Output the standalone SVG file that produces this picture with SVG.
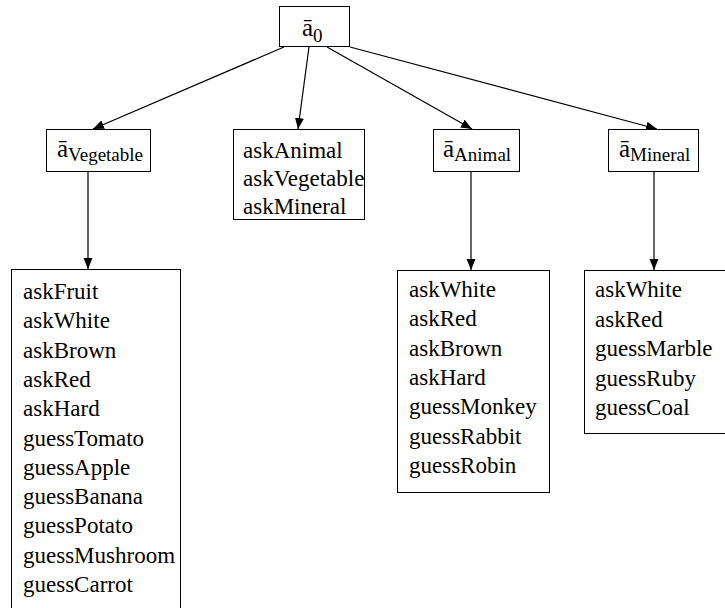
<svg xmlns="http://www.w3.org/2000/svg" width="725" height="608" viewBox="0 0 725 608" font-family="'Liberation Serif', 'Times New Roman', Times, serif">
<style>
.box{fill:#fff;stroke:#000;stroke-width:1}
.t{font-size:23px;fill:#000}
.h{font-size:25px;fill:#000}
.s{font-size:19px}
.e{stroke:#000;stroke-width:1.2;fill:none;marker-end:url(#arr)}
</style>
<defs>
<marker id="arr" markerUnits="userSpaceOnUse" markerWidth="12" markerHeight="10" refX="11" refY="4.5" orient="auto">
<path d="M0,0 L11,4.5 L0,9 z" fill="#000"/>
</marker>
</defs>
<rect width="725" height="608" fill="#fff"/>
<g id="connectors">
<line class="e" x1="284" y1="47" x2="93" y2="129"/>
<line class="e" x1="309" y1="47" x2="298" y2="129"/>
<line class="e" x1="327" y1="47" x2="472" y2="129"/>
<line class="e" x1="350" y1="47" x2="657" y2="129"/>
<line class="e" x1="88" y1="172" x2="88" y2="269"/>
<line class="e" x1="471" y1="172" x2="471" y2="270"/>
<line class="e" x1="654" y1="172" x2="654" y2="270"/>
</g>
<g id="root">
<rect class="box" x="279.5" y="6.5" width="70" height="40"/>
<text class="h" x="302" y="36">ā<tspan class="s" dy="6">0</tspan></text>
</g>
<g id="aVegetable">
<rect class="box" x="46.5" y="129.5" width="104" height="42"/>
<text class="h" x="57" y="157">ā<tspan class="s" dy="4">Vegetable</tspan></text>
</g>
<g id="root-list">
<rect class="box" x="233.5" y="129.5" width="131" height="90"/>
<text class="t" x="243" y="158">askAnimal</text>
<text class="t" x="243" y="186">askVegetable</text>
<text class="t" x="243" y="214">askMineral</text>
</g>
<g id="aAnimal">
<rect class="box" x="433.5" y="129.5" width="86" height="42"/>
<text class="h" x="443" y="157">ā<tspan class="s" dy="4">Animal</tspan></text>
</g>
<g id="aMineral">
<rect class="box" x="608.5" y="129.5" width="90" height="42"/>
<text class="h" x="619" y="157">ā<tspan class="s" dy="4">Mineral</tspan></text>
</g>
<g id="vegetable-list">
<rect class="box" x="11.5" y="269.5" width="169" height="350"/>
<text class="t" x="23" y="299">askFruit</text>
<text class="t" x="23" y="328.3">askWhite</text>
<text class="t" x="23" y="357.6">askBrown</text>
<text class="t" x="23" y="386.9">askRed</text>
<text class="t" x="23" y="416.2">askHard</text>
<text class="t" x="23" y="445.5">guessTomato</text>
<text class="t" x="23" y="474.8">guessApple</text>
<text class="t" x="23" y="504.1">guessBanana</text>
<text class="t" x="23" y="533.4">guessPotato</text>
<text class="t" x="23" y="562.7">guessMushroom</text>
<text class="t" x="23" y="592">guessCarrot</text>
</g>
<g id="animal-list">
<rect class="box" x="397.5" y="270.5" width="152" height="222"/>
<text class="t" x="409" y="297">askWhite</text>
<text class="t" x="409" y="326.3">askRed</text>
<text class="t" x="409" y="355.6">askBrown</text>
<text class="t" x="409" y="384.9">askHard</text>
<text class="t" x="409" y="414.2">guessMonkey</text>
<text class="t" x="409" y="443.5">guessRabbit</text>
<text class="t" x="409" y="472.8">guessRobin</text>
</g>
<g id="mineral-list">
<rect class="box" x="584.5" y="270.5" width="150" height="163"/>
<text class="t" x="595" y="297">askWhite</text>
<text class="t" x="595" y="326.5">askRed</text>
<text class="t" x="595" y="356">guessMarble</text>
<text class="t" x="595" y="385.5">guessRuby</text>
<text class="t" x="595" y="415">guessCoal</text>
</g>
</svg>
